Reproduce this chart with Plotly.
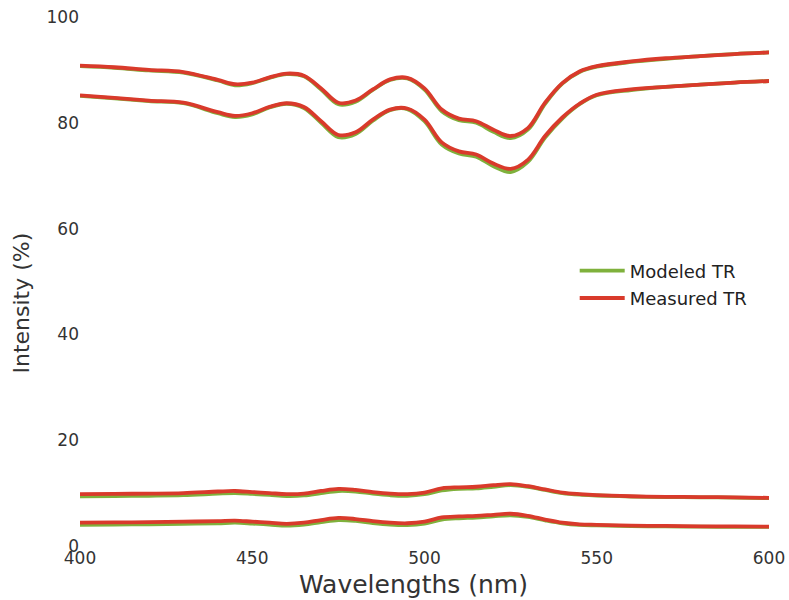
import plotly.graph_objects as go

# Wavelength grid (nm)
wavelengths = [400, 410, 420, 430, 440, 445, 450, 455, 460, 465, 470, 475, 480, 485, 490, 495,
               500, 505, 510, 515, 520, 525, 530, 535, 540, 545, 550, 560, 570, 580, 590, 600]

# Transmission/reflection curves (%), measured and modeled
upper_measured = [90.8, 90.5, 90.0, 89.6, 88.1, 87.3, 87.6, 88.6, 89.3, 88.9, 86.5, 83.8, 84.2, 86.3, 88.2, 88.5,
                  86.5, 82.5, 80.8, 80.3, 78.7, 77.5, 79.0, 83.8, 87.5, 89.7, 90.7, 91.6, 92.2, 92.6, 93.0, 93.3]
upper_modeled = [90.7, 90.4, 89.9, 89.5, 88.0, 87.1, 87.5, 88.5, 89.2, 88.8, 86.3, 83.5, 84.0, 86.2, 88.1, 88.4,
                 86.3, 82.2, 80.5, 80.0, 78.3, 77.1, 78.7, 83.6, 87.4, 89.6, 90.6, 91.5, 92.1, 92.6, 93.0, 93.3]

second_measured = [85.2, 84.7, 84.2, 83.8, 82.0, 81.3, 81.8, 83.0, 83.7, 83.0, 80.3, 77.7, 78.2, 80.6, 82.5, 82.7,
                   80.6, 76.3, 74.6, 74.0, 72.3, 71.3, 73.0, 77.5, 81.0, 83.6, 85.3, 86.3, 86.8, 87.2, 87.6, 87.9]
second_modeled = [85.1, 84.6, 84.1, 83.7, 81.8, 81.1, 81.6, 82.9, 83.6, 82.8, 80.0, 77.3, 77.9, 80.4, 82.4, 82.6,
                  80.3, 75.9, 74.2, 73.6, 71.8, 70.7, 72.6, 77.2, 80.8, 83.5, 85.2, 86.2, 86.8, 87.2, 87.6, 87.9]

third_measured = [9.8, 9.85, 9.9, 10.0, 10.3, 10.4, 10.2, 10.0, 9.8, 9.9, 10.4, 10.8, 10.6, 10.2, 9.9, 9.8,
                  10.1, 10.9, 11.1, 11.2, 11.5, 11.7, 11.3, 10.7, 10.1, 9.8, 9.6, 9.4, 9.3, 9.25, 9.2, 9.1]
third_modeled = [9.4, 9.45, 9.5, 9.6, 9.9, 10.0, 9.85, 9.65, 9.45, 9.55, 10.0, 10.4, 10.3, 9.9, 9.6, 9.5,
                 9.8, 10.5, 10.8, 10.9, 11.2, 11.5, 11.2, 10.6, 10.0, 9.7, 9.55, 9.35, 9.25, 9.2, 9.15, 9.05]

bottom_measured = [4.4, 4.45, 4.5, 4.6, 4.7, 4.8, 4.6, 4.4, 4.2, 4.4, 4.9, 5.3, 5.1, 4.7, 4.4, 4.3,
                   4.6, 5.4, 5.6, 5.7, 5.9, 6.1, 5.7, 5.0, 4.4, 4.1, 4.0, 3.85, 3.8, 3.7, 3.7, 3.65]
bottom_modeled = [4.0, 4.05, 4.1, 4.2, 4.3, 4.4, 4.25, 4.05, 3.85, 4.05, 4.5, 4.9, 4.75, 4.35, 4.05, 3.95,
                  4.25, 5.0, 5.25, 5.35, 5.6, 5.8, 5.5, 4.85, 4.3, 4.0, 3.9, 3.75, 3.7, 3.65, 3.6, 3.6]

x_ticks = [400, 450, 500, 550, 600]
y_ticks = [0, 20, 40, 60, 80, 100]

GREEN = "#7fb13c"
RED = "#d93a2b"
FONT = "DejaVu Sans"

fig = go.Figure()

modeled = [upper_modeled, second_modeled, third_modeled, bottom_modeled]
measured = [upper_measured, second_measured, third_measured, bottom_measured]

for i, ys in enumerate(modeled):
    fig.add_trace(go.Scatter(x=wavelengths, y=ys, mode="lines", name="Modeled TR",
                             legendgroup="mod", showlegend=(i == 0),
                             line=dict(color=GREEN, width=3.8, shape="spline", smoothing=1.0)))
for i, ys in enumerate(measured):
    fig.add_trace(go.Scatter(x=wavelengths, y=ys, mode="lines", name="Measured TR",
                             legendgroup="meas", showlegend=(i == 0),
                             line=dict(color=RED, width=3.8, shape="spline", smoothing=1.0)))

fig.update_layout(
    width=789, height=600,
    margin=dict(l=80, r=20, t=17, b=54, autoexpand=False),
    paper_bgcolor="white", plot_bgcolor="white",
    font=dict(family=FONT, color="#333333"),
    showlegend=True,
    legend=dict(x=0.718, y=0.555, xanchor="left", yanchor="top", itemwidth=45,
                font=dict(size=18, color="#222222", family=FONT),
                bgcolor="rgba(255,255,255,0)", tracegroupgap=1),
    xaxis=dict(range=[400, 600], tickvals=x_ticks, ticktext=[str(v) for v in x_ticks],
               showgrid=False, zeroline=False, showline=False, ticks="", automargin=False,
               tickfont=dict(size=17, color="#333333", family=FONT)),
    yaxis=dict(range=[0, 100], tickvals=y_ticks, ticktext=[str(v) for v in y_ticks],
               showgrid=False, zeroline=False, showline=False, ticks="", automargin=False,
               tickfont=dict(size=17, color="#333333", family=FONT)),
    annotations=[
        dict(text="Wavelengths (nm)", xref="paper", yref="paper", x=(413 - 80) / 689,
             y=-(583 - 545) / 528, xanchor="center", yanchor="middle", showarrow=False,
             font=dict(size=25, color="#333333", family=FONT)),
        dict(text="Intensity (%)", xref="paper", yref="paper", x=-(80 - 22) / 689,
             y=(545 - 303) / 528, xanchor="center", yanchor="middle", showarrow=False,
             textangle=-90, font=dict(size=22, color="#333333", family=FONT)),
    ],
)

fig.write_html("out.html")
